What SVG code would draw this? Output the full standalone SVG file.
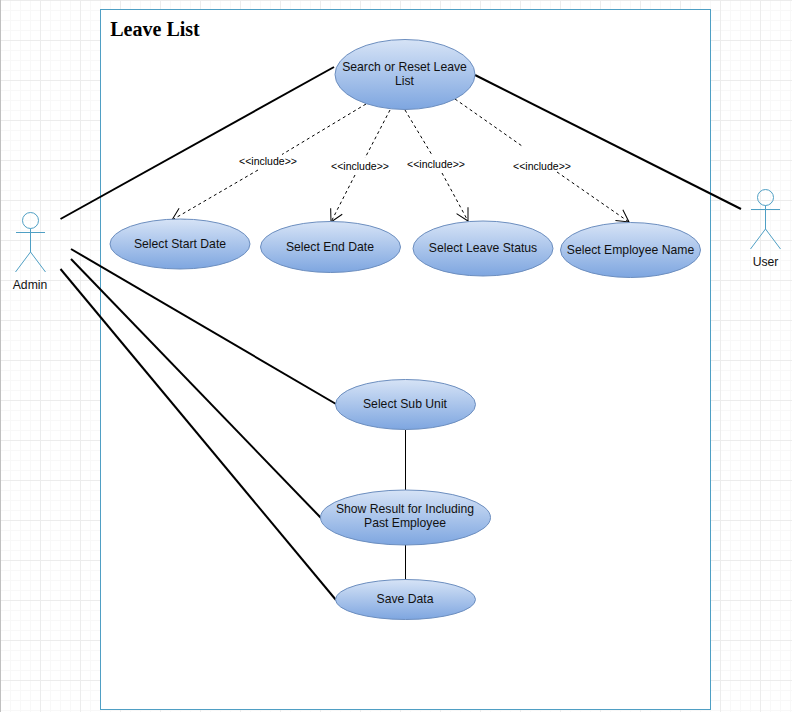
<svg xmlns="http://www.w3.org/2000/svg" width="792" height="712" viewBox="0 0 792 712">
<defs>
<pattern id="gridMinor" width="10" height="10" patternUnits="userSpaceOnUse"><path d="M0.500 0V10M0 0.500H10" fill="none" stroke="#f8f8f8" stroke-width="1"/></pattern>
<pattern id="gridMajor" width="40" height="40" patternUnits="userSpaceOnUse"><path d="M0.500 0V40M0 0.500H40" fill="none" stroke="#ececec" stroke-width="1"/></pattern>
<linearGradient id="uc" x1="0" y1="0" x2="0" y2="1"><stop offset="0" stop-color="#d6e3f6"/><stop offset="1" stop-color="#7ea6e0"/></linearGradient>
<marker id="open" viewBox="0 0 16 16" refX="14" refY="8" markerWidth="16" markerHeight="16" markerUnits="userSpaceOnUse" orient="auto"><path d="M2 1.500L14 8L2 14.500" fill="none" stroke="#000" stroke-width="1"/></marker>
</defs>
<style>
text{font-family:"Liberation Sans",Arial,sans-serif;fill:#111;text-anchor:middle}
.uc{fill:url(#uc);stroke:#6c8ebf;stroke-width:1}
.t{font-size:12.200px}
.inc{font-size:10.500px;fill:#000}
.assoc{stroke:#000;stroke-width:2;fill:none}
.thin{stroke:#000;stroke-width:1;fill:none}
.dash{stroke:#000;stroke-width:1;stroke-dasharray:3 3;fill:none}
.actor{stroke:#4f9fc4;stroke-width:1;fill:none}
</style>
<rect width="792" height="712" fill="#fff"/>
<rect width="792" height="712" fill="url(#gridMinor)"/>
<rect width="792" height="712" fill="url(#gridMajor)"/>
<rect x="0" y="0" width="1" height="712" fill="#c0c0c0"/>
<g id="boundary"><rect x="100.500" y="9.500" width="610" height="700" fill="#fff" stroke="#4f9fc4"/><text x="155" y="35.500" style="font-family:'Liberation Serif',serif;font-size:20px;font-weight:bold;fill:#000">Leave List</text></g>
<g id="connectors">
<path class="assoc" d="M60.500 219L334 67"/>
<path class="assoc" d="M475 75L741 209"/>
<path class="assoc" d="M71 249L336 404"/>
<path class="assoc" d="M71 259L321 518"/>
<path class="assoc" d="M60.500 269L336 600"/>
<path class="thin" d="M405.500 430V491"/>
<path class="thin" d="M405.500 545V580"/>
<path class="dash" d="M366 104L282 154.500"/><path class="dash" d="M258 170L172 220" marker-end="url(#open)"/>
<path class="dash" d="M390 110L365 158"/><path class="dash" d="M355 175L331 222" marker-end="url(#open)"/>
<path class="dash" d="M405 110L432 155"/><path class="dash" d="M442 173L468 221" marker-end="url(#open)"/>
<path class="dash" d="M455 99L522 146"/><path class="dash" d="M557 172L629 222" marker-end="url(#open)"/>
<text class="inc" x="268" y="165">&lt;&lt;include&gt;&gt;</text>
<text class="inc" x="360" y="170">&lt;&lt;include&gt;&gt;</text>
<text class="inc" x="436" y="168">&lt;&lt;include&gt;&gt;</text>
<text class="inc" x="542" y="170">&lt;&lt;include&gt;&gt;</text>
</g>
<g id="admin"><circle class="actor" cx="30.500" cy="220.500" r="8"/><path class="actor" d="M30.500 228.500V252M16 232.500H45M30.500 252L15.500 272M30.500 252L45.500 272"/><text class="t" x="30" y="289">Admin</text></g>
<g id="user"><circle class="actor" cx="765.500" cy="197.500" r="8"/><path class="actor" d="M765.500 205.500V229M751 209.500H780M765.500 229L750.500 249M765.500 229L780.500 249"/><text class="t" x="765.500" y="266">User</text></g>
<g id="search"><ellipse class="uc" cx="405" cy="74.500" rx="70" ry="35"/><text class="t" x="404.500" y="71">Search or Reset Leave</text><text class="t" x="404.500" y="85">List</text></g>
<g id="start"><ellipse class="uc" cx="180" cy="244" rx="70" ry="25"/><text class="t" x="180" y="248">Select Start Date</text></g>
<g id="end"><ellipse class="uc" cx="330.500" cy="247" rx="70" ry="25.500"/><text class="t" x="330" y="251">Select End Date</text></g>
<g id="status"><ellipse class="uc" cx="483" cy="248.500" rx="70" ry="27.500"/><text class="t" x="483" y="252">Select Leave Status</text></g>
<g id="employee"><ellipse class="uc" cx="630.500" cy="250" rx="70" ry="27.500"/><text class="t" x="630.500" y="254">Select Employee Name</text></g>
<g id="subunit"><ellipse class="uc" cx="405.500" cy="404.500" rx="70" ry="25"/><text class="t" x="405" y="408">Select Sub Unit</text></g>
<g id="result"><ellipse class="uc" cx="405.500" cy="517.500" rx="85" ry="27.500"/><text class="t" x="405" y="513">Show Result for Including</text><text class="t" x="405" y="527">Past Employee</text></g>
<g id="save"><ellipse class="uc" cx="405.500" cy="599.500" rx="70" ry="20"/><text class="t" x="405" y="603">Save Data</text></g>
</svg>
